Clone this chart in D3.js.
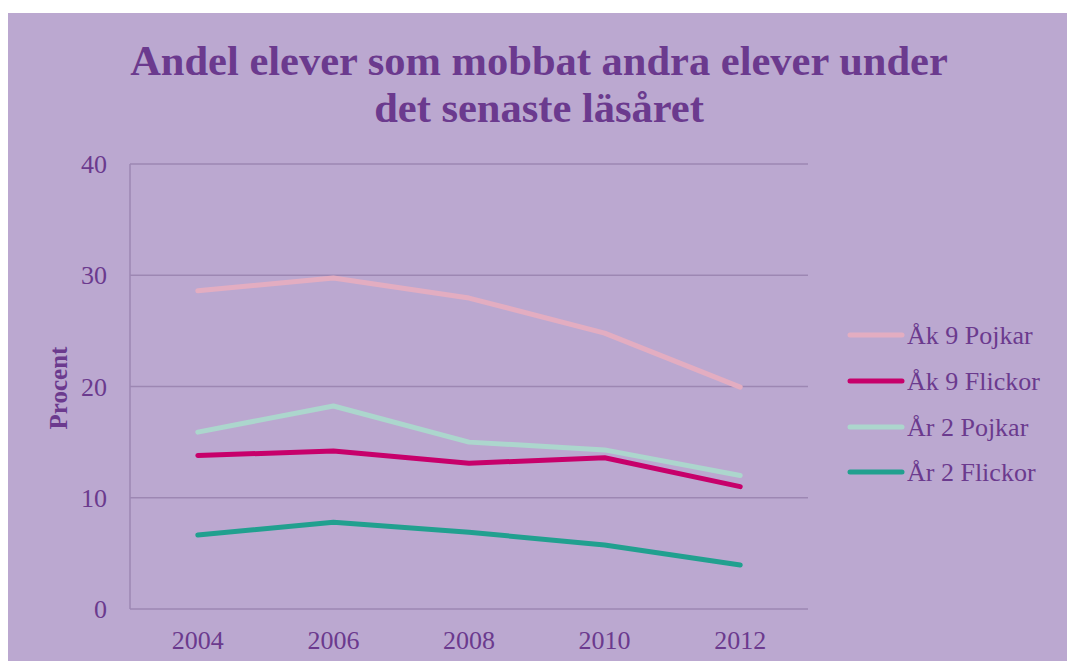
<!DOCTYPE html>
<html>
<head>
<meta charset="utf-8">
<script src="https://cdn.jsdelivr.net/npm/d3@7"></script>
<style>
  html, body { margin: 0; padding: 0; background: #fff; }
  svg { display: block; }
  text { font-family: "Liberation Serif", "Times New Roman", serif; fill: #6b3a8e; }
</style>
</head>
<body>
<div id="chart"></div>
<script>
const years = ['2004', '2006', '2008', '2010', '2012'];
const seriesNames = ['Åk 9 Pojkar', 'Åk 9 Flickor', 'År 2 Pojkar', 'År 2 Flickor'];
const ak9Pojkar = [28.6, 29.75, 27.95, 24.8, 19.95];
const ak9Flickor = [13.8, 14.2, 13.1, 13.6, 11.0];
const ar2Pojkar = [15.9, 18.25, 15.0, 14.3, 12.0];
const ar2Flickor = [6.65, 7.8, 6.9, 5.75, 3.95];
const yTicks = [0, 10, 20, 30, 40];

const colors = ['#e3adc1', '#c7006b', '#acd6cd', '#21a08f'];
const allSeries = [ak9Pojkar, ak9Flickor, ar2Pojkar, ar2Flickor];

const W = 1067, H = 661;
const margin = {left: 130, right: 259, top: 164, bottom: 52};

const svg = d3.select('#chart').append('svg')
    .attr('width', W).attr('height', H);

svg.append('rect')
    .attr('x', 8).attr('y', 13)
    .attr('width', W - 8).attr('height', H - 13)
    .attr('fill', '#bba8d0');

const x = d3.scaleBand().domain(years).range([margin.left, W - margin.right]);
const y = d3.scaleLinear().domain([0, 40]).range([H - margin.bottom, margin.top]);

// gridlines
svg.append('g').selectAll('line').data(yTicks).join('line')
    .attr('x1', margin.left).attr('x2', W - margin.right)
    .attr('y1', d => y(d)).attr('y2', d => y(d))
    .attr('stroke', '#9d87b3').attr('stroke-width', 1.5);

svg.append('line')
    .attr('x1', margin.left).attr('x2', margin.left)
    .attr('y1', y(0)).attr('y2', y(40))
    .attr('stroke', '#9d87b3').attr('stroke-width', 1.5);

// y tick labels
svg.append('g').selectAll('text').data(yTicks).join('text')
    .attr('x', 107).attr('y', d => y(d) + 9)
    .attr('text-anchor', 'end')
    .style('font-size', '26px')
    .text(d => d);

// x tick labels
svg.append('g').selectAll('text').data(years).join('text')
    .attr('x', d => x(d) + x.bandwidth() / 2).attr('y', 649)
    .attr('text-anchor', 'middle')
    .style('font-size', '26px')
    .text(d => d);

// y axis title
svg.append('text')
    .attr('transform', 'translate(67,388) rotate(-90)')
    .attr('text-anchor', 'middle')
    .style('font-size', '25px').style('font-weight', 'bold')
    .text('Procent');

// title
const title = svg.append('text')
    .attr('text-anchor', 'middle')
    .style('font-size', '42.5px').style('font-weight', 'bold');
title.append('tspan').attr('x', 539).attr('y', 75).text('Andel elever som mobbat andra elever under');
title.append('tspan').attr('x', 539).attr('y', 122).text('det senaste läsåret');

// lines
const line = d3.line()
    .x((d, i) => x(years[i]) + x.bandwidth() / 2)
    .y(d => y(d));

svg.append('g').selectAll('path').data(allSeries).join('path')
    .attr('d', line)
    .attr('fill', 'none')
    .attr('stroke', (d, i) => colors[i])
    .attr('stroke-width', 5)
    .attr('stroke-linecap', 'round')
    .attr('stroke-linejoin', 'round');

// legend
const legendY = [335, 381, 427, 472];
const lg = svg.append('g').selectAll('g').data(seriesNames).join('g')
    .attr('transform', (d, i) => 'translate(0,' + legendY[i] + ')');
lg.append('line')
    .attr('x1', 850).attr('x2', 902).attr('y1', 0).attr('y2', 0)
    .attr('stroke', (d, i) => colors[i])
    .attr('stroke-width', 5)
    .attr('stroke-linecap', 'round');
lg.append('text')
    .attr('x', 907).attr('y', 9)
    .style('font-size', '26px')
    .text(d => d);
</script>
</body>
</html>
